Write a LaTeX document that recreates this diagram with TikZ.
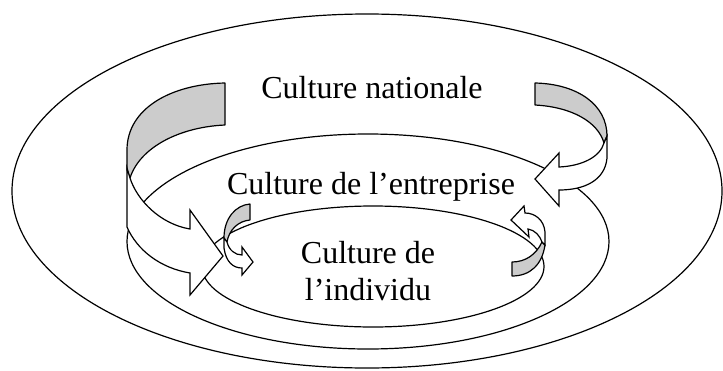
\documentclass[tikz,border=0pt]{standalone}
\usepackage{fontspec}
\setmainfont{Liberation Serif}
\usetikzlibrary{shapes.geometric}
\definecolor{ribbon}{RGB}{204,204,204}
\begin{document}
\begin{tikzpicture}[x=1pt,y=-1pt, line width=1.2pt,
  ring/.style={draw=black, ellipse, inner sep=0pt, outer sep=0pt},
  back/.style={draw=black, fill=ribbon, line join=round},
  front/.style={draw=black, fill=white, line join=miter},
  lbl/.style={font=\fontsize{32}{36}\selectfont, anchor=base, inner sep=0pt}]
\useasboundingbox (0,0) rectangle (723,370);
% rings
\node[ring, minimum width=710pt, minimum height=354pt] (nat) at (367,191) {};
\node[ring, minimum width=482pt, minimum height=215pt] (ent) at (368,241.5) {};
\node[ring, minimum width=342pt, minimum height=121pt] (ind) at (373,266.5) {};
% labels
\node[lbl] (tnat) at (372,98) {Culture nationale};
\node[lbl] (tent) at (371,194) {Culture de l’entreprise};
\node[lbl] (tind1) at (368,263) {Culture de};
\node[lbl] (tind2) at (368,300) {l’individu};
% big left ribbon arrow
\filldraw[back] (225,83) -- (225,125) .. controls (180,127) and (140,147) .. (130,178) -- (127,170) -- (127,150) .. controls (127,108) and (172,84) .. (225,83) -- cycle;
\filldraw[front] (127,168) -- (127,227) .. controls (137,250) and (160,268) .. (190,273) -- (190,295) -- (223,256) -- (190,210) -- (190,229) .. controls (160,224) and (137,200) .. (130,178) -- cycle;
% big right ribbon arrow
\filldraw[back] (535,83) -- (535,105) .. controls (572,107) and (598,122) .. (604,143) -- (607,136) .. controls (607,105) and (578,84) .. (535,83) -- cycle;
\filldraw[front] (607,136) -- (607,158) .. controls (605,180) and (585,190) .. (559,190) -- (559,206) -- (535,179) -- (559,153) -- (559,167) .. controls (582,166) and (600,157) .. (604,143) -- cycle;
% small left ribbon arrow
\filldraw[back] (250,204) -- (250,220) .. controls (238,221) and (229,230) .. (227,242) -- (224,238) .. controls (224,218) and (236,205) .. (250,204) -- cycle;
\filldraw[front] (224,238) -- (224,248) .. controls (226,262) and (233,268) .. (242,268) -- (242,275) -- (253,262) -- (242,247) -- (242,255) .. controls (235,255) and (229,250) .. (227,242) -- cycle;
% small right ribbon arrow
\filldraw[back] (512,262) -- (512,276) .. controls (530,276) and (542,265) .. (545,245) -- (542,242) .. controls (536,255) and (525,262) .. (512,262) -- cycle;
\filldraw[front] (545,245) -- (545,232) .. controls (544,220) and (535,213) .. (525,213) -- (524,206) -- (511,220) -- (529,237) -- (528,229) .. controls (535,230) and (540,236) .. (542,242) -- cycle;
\end{tikzpicture}
\end{document}
